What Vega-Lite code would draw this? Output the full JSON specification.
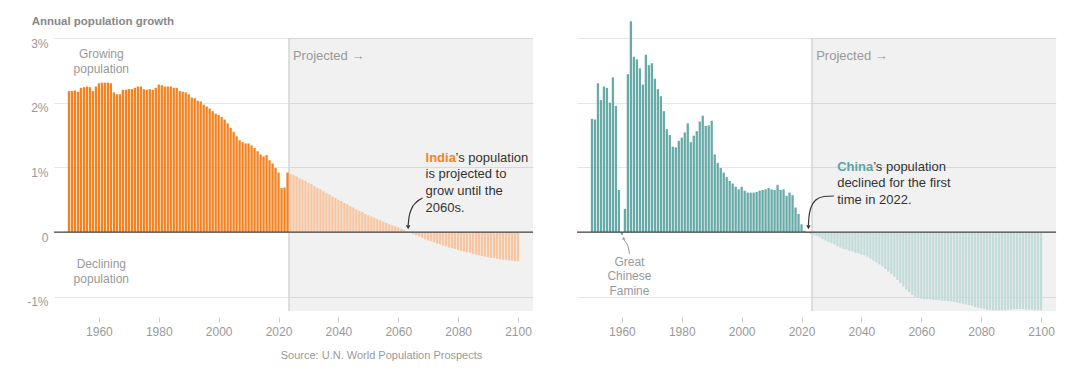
{
  "$schema": "https://vega.github.io/schema/vega-lite/v6.json",
  "padding": {"left": 26, "top": 15, "right": 0, "bottom": 0},
  "background": "white",
  "spacing": 42,
  "config": {"view": {"stroke": null}, "font": "Liberation Sans", "text": {"font": "Liberation Sans"}},
  "datasets": {
    "india": [
      {"year":1950,"growth":2.18},{"year":1951,"growth":2.18},{"year":1952,"growth":2.19},{"year":1953,"growth":2.17},{"year":1954,"growth":2.23},{"year":1955,"growth":2.24},{"year":1956,"growth":2.25},{"year":1957,"growth":2.24},{"year":1958,"growth":2.18},{"year":1959,"growth":2.25},
      {"year":1960,"growth":2.30},{"year":1961,"growth":2.31},{"year":1962,"growth":2.31},{"year":1963,"growth":2.31},{"year":1964,"growth":2.30},{"year":1965,"growth":2.16},{"year":1966,"growth":2.13},{"year":1967,"growth":2.13},{"year":1968,"growth":2.20},{"year":1969,"growth":2.20},
      {"year":1970,"growth":2.21},{"year":1971,"growth":2.21},{"year":1972,"growth":2.23},{"year":1973,"growth":2.25},{"year":1974,"growth":2.25},{"year":1975,"growth":2.21},{"year":1976,"growth":2.20},{"year":1977,"growth":2.21},{"year":1978,"growth":2.20},{"year":1979,"growth":2.23},
      {"year":1980,"growth":2.28},{"year":1981,"growth":2.27},{"year":1982,"growth":2.25},{"year":1983,"growth":2.25},{"year":1984,"growth":2.25},{"year":1985,"growth":2.23},{"year":1986,"growth":2.23},{"year":1987,"growth":2.18},{"year":1988,"growth":2.17},{"year":1989,"growth":2.16},
      {"year":1990,"growth":2.13},{"year":1991,"growth":2.08},{"year":1992,"growth":2.07},{"year":1993,"growth":2.03},{"year":1994,"growth":2.02},{"year":1995,"growth":1.97},{"year":1996,"growth":1.94},{"year":1997,"growth":1.91},{"year":1998,"growth":1.87},{"year":1999,"growth":1.83},
      {"year":2000,"growth":1.81},{"year":2001,"growth":1.78},{"year":2002,"growth":1.74},{"year":2003,"growth":1.68},{"year":2004,"growth":1.61},{"year":2005,"growth":1.55},{"year":2006,"growth":1.48},{"year":2007,"growth":1.42},{"year":2008,"growth":1.39},{"year":2009,"growth":1.37},
      {"year":2010,"growth":1.37},{"year":2011,"growth":1.34},{"year":2012,"growth":1.30},{"year":2013,"growth":1.25},{"year":2014,"growth":1.20},{"year":2015,"growth":1.17},{"year":2016,"growth":1.19},{"year":2017,"growth":1.11},{"year":2018,"growth":1.06},{"year":2019,"growth":0.99},
      {"year":2020,"growth":0.92},{"year":2021,"growth":0.68},{"year":2022,"growth":0.69},{"year":2023,"growth":0.92},{"year":2024,"growth":0.90},{"year":2025,"growth":0.88},{"year":2026,"growth":0.86},{"year":2027,"growth":0.83},{"year":2028,"growth":0.81},{"year":2029,"growth":0.79},
      {"year":2030,"growth":0.76},{"year":2031,"growth":0.74},{"year":2032,"growth":0.71},{"year":2033,"growth":0.68},{"year":2034,"growth":0.66},{"year":2035,"growth":0.63},{"year":2036,"growth":0.60},{"year":2037,"growth":0.58},{"year":2038,"growth":0.55},{"year":2039,"growth":0.53},
      {"year":2040,"growth":0.50},{"year":2041,"growth":0.48},{"year":2042,"growth":0.45},{"year":2043,"growth":0.43},{"year":2044,"growth":0.40},{"year":2045,"growth":0.38},{"year":2046,"growth":0.35},{"year":2047,"growth":0.33},{"year":2048,"growth":0.31},{"year":2049,"growth":0.28},
      {"year":2050,"growth":0.26},{"year":2051,"growth":0.24},{"year":2052,"growth":0.22},{"year":2053,"growth":0.20},{"year":2054,"growth":0.18},{"year":2055,"growth":0.16},{"year":2056,"growth":0.14},{"year":2057,"growth":0.12},{"year":2058,"growth":0.10},{"year":2059,"growth":0.09},
      {"year":2060,"growth":0.07},{"year":2061,"growth":0.05},{"year":2062,"growth":0.03},{"year":2063,"growth":0.01},{"year":2064,"growth":-0.01},{"year":2065,"growth":-0.03},{"year":2066,"growth":-0.05},{"year":2067,"growth":-0.07},{"year":2068,"growth":-0.09},{"year":2069,"growth":-0.11},
      {"year":2070,"growth":-0.13},{"year":2071,"growth":-0.14},{"year":2072,"growth":-0.16},{"year":2073,"growth":-0.18},{"year":2074,"growth":-0.19},{"year":2075,"growth":-0.21},{"year":2076,"growth":-0.22},{"year":2077,"growth":-0.24},{"year":2078,"growth":-0.25},{"year":2079,"growth":-0.26},
      {"year":2080,"growth":-0.28},{"year":2081,"growth":-0.29},{"year":2082,"growth":-0.30},{"year":2083,"growth":-0.31},{"year":2084,"growth":-0.32},{"year":2085,"growth":-0.34},{"year":2086,"growth":-0.35},{"year":2087,"growth":-0.36},{"year":2088,"growth":-0.37},{"year":2089,"growth":-0.38},
      {"year":2090,"growth":-0.39},{"year":2091,"growth":-0.40},{"year":2092,"growth":-0.40},{"year":2093,"growth":-0.41},{"year":2094,"growth":-0.42},{"year":2095,"growth":-0.43},{"year":2096,"growth":-0.43},{"year":2097,"growth":-0.44},{"year":2098,"growth":-0.44},{"year":2099,"growth":-0.45},
      {"year":2100,"growth":-0.45}
    ],
    "china": [
      {"year":1950,"growth":1.75},{"year":1951,"growth":1.74},{"year":1952,"growth":2.30},{"year":1953,"growth":2.04},{"year":1954,"growth":2.25},{"year":1955,"growth":2.23},{"year":1956,"growth":2.00},{"year":1957,"growth":2.39},{"year":1958,"growth":1.95},{"year":1959,"growth":0.65},
      {"year":1960,"growth":-0.04},{"year":1961,"growth":0.36},{"year":1962,"growth":2.44},{"year":1963,"growth":3.26},{"year":1964,"growth":2.71},{"year":1965,"growth":2.67},{"year":1966,"growth":2.53},{"year":1967,"growth":2.28},{"year":1968,"growth":2.74},{"year":1969,"growth":2.58},
      {"year":1970,"growth":2.61},{"year":1971,"growth":2.37},{"year":1972,"growth":2.21},{"year":1973,"growth":2.10},{"year":1974,"growth":1.87},{"year":1975,"growth":1.59},{"year":1976,"growth":1.50},{"year":1977,"growth":1.32},{"year":1978,"growth":1.31},{"year":1979,"growth":1.41},
      {"year":1980,"growth":1.46},{"year":1981,"growth":1.54},{"year":1982,"growth":1.68},{"year":1983,"growth":1.39},{"year":1984,"growth":1.49},{"year":1985,"growth":1.56},{"year":1986,"growth":1.71},{"year":1987,"growth":1.80},{"year":1988,"growth":1.64},{"year":1989,"growth":1.65},
      {"year":1990,"growth":1.72},{"year":1991,"growth":1.20},{"year":1992,"growth":1.07},{"year":1993,"growth":0.99},{"year":1994,"growth":0.92},{"year":1995,"growth":0.85},{"year":1996,"growth":0.79},{"year":1997,"growth":0.75},{"year":1998,"growth":0.70},{"year":1999,"growth":0.66},
      {"year":2000,"growth":0.70},{"year":2001,"growth":0.64},{"year":2002,"growth":0.61},{"year":2003,"growth":0.61},{"year":2004,"growth":0.61},{"year":2005,"growth":0.62},{"year":2006,"growth":0.64},{"year":2007,"growth":0.65},{"year":2008,"growth":0.66},{"year":2009,"growth":0.68},
      {"year":2010,"growth":0.66},{"year":2011,"growth":0.65},{"year":2012,"growth":0.73},{"year":2013,"growth":0.65},{"year":2014,"growth":0.66},{"year":2015,"growth":0.56},{"year":2016,"growth":0.61},{"year":2017,"growth":0.57},{"year":2018,"growth":0.38},{"year":2019,"growth":0.28},
      {"year":2020,"growth":0.12},{"year":2021,"growth":0.02},{"year":2022,"growth":-0.01},{"year":2023,"growth":-0.02},{"year":2024,"growth":-0.04},{"year":2025,"growth":-0.06},{"year":2026,"growth":-0.08},{"year":2027,"growth":-0.11},{"year":2028,"growth":-0.13},{"year":2029,"growth":-0.15},
      {"year":2030,"growth":-0.17},{"year":2031,"growth":-0.19},{"year":2032,"growth":-0.22},{"year":2033,"growth":-0.24},{"year":2034,"growth":-0.26},{"year":2035,"growth":-0.27},{"year":2036,"growth":-0.29},{"year":2037,"growth":-0.30},{"year":2038,"growth":-0.32},{"year":2039,"growth":-0.33},
      {"year":2040,"growth":-0.35},{"year":2041,"growth":-0.36},{"year":2042,"growth":-0.38},{"year":2043,"growth":-0.41},{"year":2044,"growth":-0.44},{"year":2045,"growth":-0.47},{"year":2046,"growth":-0.50},{"year":2047,"growth":-0.53},{"year":2048,"growth":-0.57},{"year":2049,"growth":-0.61},
      {"year":2050,"growth":-0.65},{"year":2051,"growth":-0.69},{"year":2052,"growth":-0.74},{"year":2053,"growth":-0.79},{"year":2054,"growth":-0.84},{"year":2055,"growth":-0.89},{"year":2056,"growth":-0.93},{"year":2057,"growth":-0.97},{"year":2058,"growth":-1.00},{"year":2059,"growth":-1.02},
      {"year":2060,"growth":-1.03},{"year":2061,"growth":-1.04},{"year":2062,"growth":-1.04},{"year":2063,"growth":-1.04},{"year":2064,"growth":-1.05},{"year":2065,"growth":-1.05},{"year":2066,"growth":-1.05},{"year":2067,"growth":-1.06},{"year":2068,"growth":-1.06},{"year":2069,"growth":-1.07},
      {"year":2070,"growth":-1.07},{"year":2071,"growth":-1.08},{"year":2072,"growth":-1.09},{"year":2073,"growth":-1.10},{"year":2074,"growth":-1.11},{"year":2075,"growth":-1.12},{"year":2076,"growth":-1.13},{"year":2077,"growth":-1.14},{"year":2078,"growth":-1.16},{"year":2079,"growth":-1.17},
      {"year":2080,"growth":-1.18},{"year":2081,"growth":-1.19},{"year":2082,"growth":-1.20},{"year":2083,"growth":-1.20},{"year":2084,"growth":-1.21},{"year":2085,"growth":-1.21},{"year":2086,"growth":-1.21},{"year":2087,"growth":-1.21},{"year":2088,"growth":-1.21},{"year":2089,"growth":-1.20},
      {"year":2090,"growth":-1.20},{"year":2091,"growth":-1.19},{"year":2092,"growth":-1.19},{"year":2093,"growth":-1.19},{"year":2094,"growth":-1.19},{"year":2095,"growth":-1.20},{"year":2096,"growth":-1.20},{"year":2097,"growth":-1.20},{"year":2098,"growth":-1.21},{"year":2099,"growth":-1.21},
      {"year":2100,"growth":-1.21}
    ],
    "arrowIndia": [
      {"year":2063.3,"growth":0.11},{"year":2063.6,"growth":0.233},{"year":2064.4,"growth":0.357},{"year":2066.1,"growth":0.465},{"year":2068.1,"growth":0.527}
    ],
    "arrowChina": [
      {"year":2022.3,"growth":0.11},{"year":2022.45,"growth":0.218},{"year":2023.1,"growth":0.373},{"year":2024.77,"growth":0.496},{"year":2027.45,"growth":0.55},{"year":2030.8,"growth":0.558}
    ],
    "arrowFamine": [
      {"year":1960.74,"growth":-0.122},{"year":1961.24,"growth":-0.153},{"year":1962.07,"growth":-0.23},{"year":1962.58,"growth":-0.338}
    ]
  },
  "hconcat": [
    {
      "width": 479,
      "height": 273,
      "title": {"text": "Annual population growth", "anchor": "start", "frame": "bounds", "dx": 5, "fontSize": 11.5, "fontWeight": "bold", "color": "#888888", "font": "Liberation Sans", "baseline": "alphabetic", "offset": 1},
      "layer": [
        {"data": {"values": [{}]}, "mark": {"type": "rect", "color": "#000000", "opacity": 0.055}, "encoding": {"x": {"datum": 2023.5}, "x2": {"datum": 2105}, "y": {"datum": 3}, "y2": {"datum": -1.22}}},
        {"data": {"values": [{}]}, "mark": {"type": "rule", "color": "#d4d4d4", "strokeWidth": 1.5}, "encoding": {"x": {"datum": 2023.5}, "y": {"datum": 3}, "y2": {"datum": -1.22}}},
        {"data": {"name": "india"}, "transform": [{"filter": "datum.year <= 2023"}], "mark": {"type": "bar", "color": "#f5821f", "width": 2.3, "orient": "vertical"},
          "encoding": {
            "x": {"field": "year", "type": "quantitative", "title": null, "scale": {"domain": [1945, 2105], "nice": false, "zero": false, "padding": 0},
              "axis": {"values": [1960,1980,2000,2020,2040,2060,2080,2100], "format": "d", "grid": false, "domain": false, "ticks": true, "tickColor": "#cccccc", "tickSize": 5, "offset": 6, "labelPadding": 4, "labelColor": "#999999", "labelFontSize": 12, "labelFont": "Liberation Sans"}},
            "y": {"field": "growth", "type": "quantitative", "title": null, "scale": {"domain": [-1.22, 3], "nice": false},
              "axis": {"values": [-1,0,1,2,3], "labelExpr": "datum.value === 0 ? '0' : datum.value + '%'", "grid": true, "gridColor": "#e6e6e6", "domain": false, "ticks": false, "labelPadding": 6, "labelBaseline": "top", "labelColor": "#999999", "labelFontSize": 12, "labelFont": "Liberation Sans"}}
          }},
        {"data": {"name": "india"}, "transform": [{"filter": "datum.year > 2023"}], "mark": {"type": "bar", "color": "#f7c6a0", "width": 2.3, "orient": "vertical"},
          "encoding": {"x": {"field": "year", "type": "quantitative"}, "y": {"field": "growth", "type": "quantitative"}}},
        {"data": {"values": [{}]}, "mark": {"type": "rule", "color": "#444444", "strokeWidth": 1.3}, "encoding": {"y": {"datum": 0}}},
        {"data": {"values": [{}]}, "mark": {"type": "text", "align": "center", "baseline": "middle", "fontSize": 12, "color": "#999999", "lineHeight": 14.5},
          "encoding": {"x": {"datum": 1960.8}, "y": {"datum": 2.749}, "text": {"value": ["Growing", "population"]}}},
        {"data": {"values": [{}]}, "mark": {"type": "text", "align": "center", "baseline": "middle", "fontSize": 12, "color": "#999999", "lineHeight": 15},
          "encoding": {"x": {"datum": 1960.8}, "y": {"datum": -0.498}, "text": {"value": ["Declining", "population"]}}},
        {"data": {"values": [{}]}, "mark": {"type": "text", "align": "left", "baseline": "middle", "fontSize": 13, "color": "#999999"},
          "encoding": {"x": {"datum": 2024.8}, "y": {"datum": 2.72}, "text": {"value": "Projected →"}}},
        {"data": {"values": [{}]}, "mark": {"type": "text", "align": "left", "baseline": "middle", "fontSize": 13, "fontWeight": "bold", "color": "#f5821f"},
          "encoding": {"x": {"datum": 2069.1}, "y": {"datum": 1.15}, "text": {"value": "India"}}},
        {"data": {"values": [{}]}, "mark": {"type": "text", "align": "left", "baseline": "middle", "fontSize": 13, "color": "#333333", "dx": 30},
          "encoding": {"x": {"datum": 2069.1}, "y": {"datum": 1.15}, "text": {"value": "’s population"}}},
        {"data": {"values": [{}]}, "mark": {"type": "text", "align": "left", "baseline": "middle", "fontSize": 13, "color": "#333333", "lineHeight": 16.7},
          "encoding": {"x": {"datum": 2069.1}, "y": {"datum": 0.893}, "text": {"value": ["is projected to", "grow until the", "2060s."]}}},
        {"data": {"name": "arrowIndia"}, "mark": {"type": "line", "interpolate": "monotone", "color": "#333333", "strokeWidth": 1.2},
          "encoding": {"x": {"field": "year", "type": "quantitative"}, "y": {"field": "growth", "type": "quantitative"}}},
        {"data": {"values": [{}]}, "mark": {"type": "point", "shape": "triangle-down", "filled": true, "size": 20, "color": "#333333", "opacity": 1},
          "encoding": {"x": {"datum": 2063.3}, "y": {"datum": 0.075}}},
        {"data": {"values": [{}]}, "mark": {"type": "text", "align": "center", "baseline": "middle", "fontSize": 11, "color": "#999999"},
          "encoding": {"x": {"datum": 2054.4}, "y": {"datum": -1.915}, "text": {"value": "Source: U.N. World Population Prospects"}}}
      ]
    },
    {
      "width": 479,
      "height": 273,
      "layer": [
        {"data": {"values": [{}]}, "mark": {"type": "rect", "color": "#000000", "opacity": 0.055}, "encoding": {"x": {"datum": 2023.5}, "x2": {"datum": 2105}, "y": {"datum": 3}, "y2": {"datum": -1.22}}},
        {"data": {"values": [{}]}, "mark": {"type": "rule", "color": "#d4d4d4", "strokeWidth": 1.5}, "encoding": {"x": {"datum": 2023.5}, "y": {"datum": 3}, "y2": {"datum": -1.22}}},
        {"data": {"name": "china"}, "transform": [{"filter": "datum.year <= 2023"}], "mark": {"type": "bar", "color": "#68aaa8", "width": 2.3, "orient": "vertical"},
          "encoding": {
            "x": {"field": "year", "type": "quantitative", "title": null, "scale": {"domain": [1945, 2105], "nice": false, "zero": false, "padding": 0},
              "axis": {"values": [1960,1980,2000,2020,2040,2060,2080,2100], "format": "d", "grid": false, "domain": false, "ticks": true, "tickColor": "#cccccc", "tickSize": 5, "offset": 6, "labelPadding": 4, "labelColor": "#999999", "labelFontSize": 12, "labelFont": "Liberation Sans"}},
            "y": {"field": "growth", "type": "quantitative", "title": null, "scale": {"domain": [-1.22, 3], "nice": false},
              "axis": {"values": [-1,0,1,2,3], "labels": false, "grid": true, "gridColor": "#e6e6e6", "domain": false, "ticks": false}}
          }},
        {"data": {"name": "china"}, "transform": [{"filter": "datum.year > 2023"}], "mark": {"type": "bar", "color": "#c3dcda", "width": 2.3, "orient": "vertical"},
          "encoding": {"x": {"field": "year", "type": "quantitative"}, "y": {"field": "growth", "type": "quantitative"}}},
        {"data": {"values": [{}]}, "mark": {"type": "rule", "color": "#444444", "strokeWidth": 1.3}, "encoding": {"y": {"datum": 0}}},
        {"data": {"values": [{}]}, "mark": {"type": "text", "align": "left", "baseline": "middle", "fontSize": 13, "color": "#999999"},
          "encoding": {"x": {"datum": 2024.9}, "y": {"datum": 2.72}, "text": {"value": "Projected →"}}},
        {"data": {"values": [{}]}, "mark": {"type": "text", "align": "center", "baseline": "middle", "fontSize": 12, "color": "#999999", "lineHeight": 14.6},
          "encoding": {"x": {"datum": 1962.5}, "y": {"datum": -0.458}, "text": {"value": ["Great", "Chinese", "Famine"]}}},
        {"data": {"name": "arrowFamine"}, "mark": {"type": "line", "interpolate": "monotone", "color": "#999999", "strokeWidth": 1},
          "encoding": {"x": {"field": "year", "type": "quantitative"}, "y": {"field": "growth", "type": "quantitative"}}},
        {"data": {"values": [{}]}, "mark": {"type": "point", "shape": "triangle-up", "filled": true, "size": 12, "color": "#999999", "opacity": 1},
          "encoding": {"x": {"datum": 1960.6}, "y": {"datum": -0.095}}},
        {"data": {"values": [{}]}, "mark": {"type": "text", "align": "left", "baseline": "middle", "fontSize": 13, "fontWeight": "bold", "color": "#5fa3a1"},
          "encoding": {"x": {"datum": 2031.9}, "y": {"datum": 1.006}, "text": {"value": "China"}}},
        {"data": {"values": [{}]}, "mark": {"type": "text", "align": "left", "baseline": "middle", "fontSize": 13, "color": "#333333", "dx": 36},
          "encoding": {"x": {"datum": 2031.9}, "y": {"datum": 1.006}, "text": {"value": "’s population"}}},
        {"data": {"values": [{}]}, "mark": {"type": "text", "align": "left", "baseline": "middle", "fontSize": 13, "color": "#333333", "lineHeight": 16.3},
          "encoding": {"x": {"datum": 2031.9}, "y": {"datum": 0.754}, "text": {"value": ["declined for the first", "time in 2022."]}}},
        {"data": {"name": "arrowChina"}, "mark": {"type": "line", "interpolate": "monotone", "color": "#333333", "strokeWidth": 1.2},
          "encoding": {"x": {"field": "year", "type": "quantitative"}, "y": {"field": "growth", "type": "quantitative"}}},
        {"data": {"values": [{}]}, "mark": {"type": "point", "shape": "triangle-down", "filled": true, "size": 20, "color": "#333333", "opacity": 1},
          "encoding": {"x": {"datum": 2022.3}, "y": {"datum": 0.075}}}
      ]
    }
  ]
}
